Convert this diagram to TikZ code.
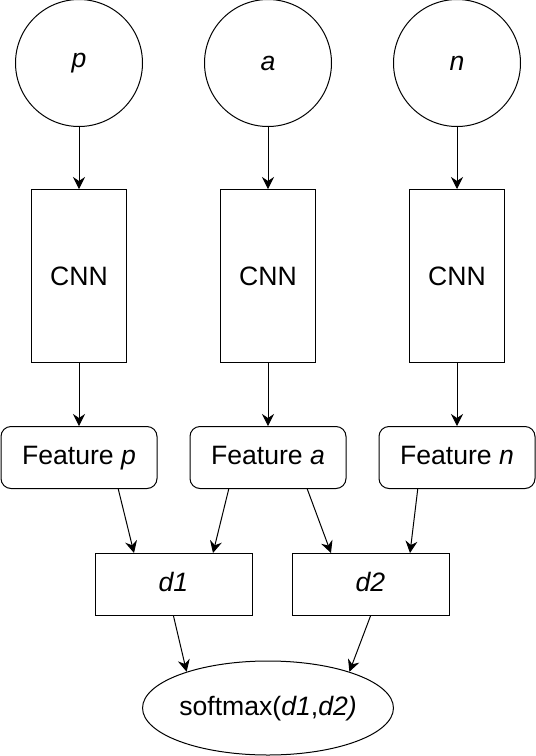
\documentclass[tikz,border=0pt]{standalone}
\usepackage{fontspec}
\setmainfont{Liberation Sans}
\usepackage{tikz}
\usetikzlibrary{shapes,arrows.meta,positioning,calc}

\begin{document}
\begin{tikzpicture}[
    x=0.5pt, y=-0.5pt,
    node distance=31pt,
    font=\fontsize{13.3}{16}\selectfont,
    line width=0.5pt,
    inp/.style={draw, circle, minimum size=63.5pt, inner sep=0pt},
    cnn/.style={draw, rectangle, minimum width=47.5pt, minimum height=86.5pt},
    feat/.style={draw, rectangle, rounded corners=5pt, minimum width=78pt, minimum height=31pt, text height=0.716em, text depth=0pt},
    dist/.style={draw, rectangle, minimum width=78.5pt, minimum height=31pt, text height=0.716em, text depth=0pt},
    softm/.style={draw, ellipse, minimum width=110.5pt, minimum height=47pt, inner sep=0pt, text height=0.716em, text depth=0pt},
    arr/.style={-{Stealth[length=6pt,width=6pt,inset=2pt]}}
]
    \useasboundingbox (0,0) rectangle (536,756);

    % inputs
    \node [inp] (p) at (79,63) {\textit{p}};
    \node [inp] (a) at (268,63) {\textit{a}};
    \node [inp] (n) at (457,63) {\textit{n}};

    % networks
    \node [cnn, below=of p] (cp) {CNN};
    \node [cnn, below=of a] (ca) {CNN};
    \node [cnn, below=of n] (cn) {CNN};

    % features
    \node [feat, below=31.5pt of cp] (fp) {Feature \textit{p}};
    \node [feat, below=31.5pt of ca] (fa) {Feature \textit{a}};
    \node [feat, below=31.5pt of cn] (fn) {Feature \textit{n}};

    % distances
    \coordinate (m1) at ($(fp.south)!0.5!(fa.south)$);
    \coordinate (m2) at ($(fa.south)!0.5!(fn.south)$);
    \node [dist, below=32pt of m1] (d1) {\textit{d1}};
    \node [dist, below=32pt of m2, xshift=4pt] (d2) {\textit{d2}};

    \node [softm] (sm) at (268,708) {softmax(\textit{d1},\textit{d2)}};

    \draw [arr] (p) -- (cp);
    \draw [arr] (a) -- (ca);
    \draw [arr] (n) -- (cn);
    \draw [arr] (cp) -- (fp);
    \draw [arr] (ca) -- (fa);
    \draw [arr] (cn) -- (fn);

    \draw [arr] ($(fp.south west)!0.75!(fp.south east)$) -- ($(d1.north west)!0.25!(d1.north east)$);
    \draw [arr] ($(fa.south west)!0.25!(fa.south east)$) -- ($(d1.north west)!0.75!(d1.north east)$);
    \draw [arr] ($(fa.south west)!0.75!(fa.south east)$) -- ($(d2.north west)!0.25!(d2.north east)$);
    \draw [arr] ($(fn.south west)!0.25!(fn.south east)$) -- ($(d2.north west)!0.75!(d2.north east)$);

    \draw [arr] (d1.south) -- (sm.156);
    \draw [arr] (d2.south) -- (sm.24);
\end{tikzpicture}
\end{document}
